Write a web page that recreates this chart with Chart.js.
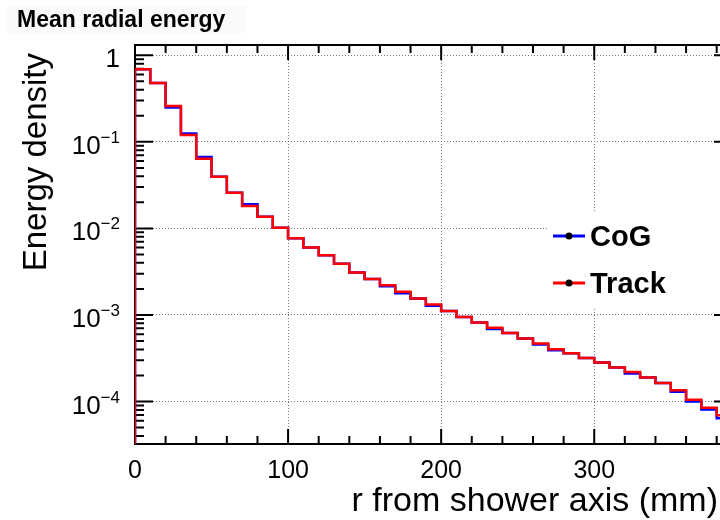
<!DOCTYPE html>
<html>
<head>
<meta charset="utf-8">
<script src="https://cdn.jsdelivr.net/npm/chart.js@4.4.1/dist/chart.umd.min.js"></script>
<style>
  html, body { margin: 0; padding: 0; overflow: hidden; background: #fff; }
</style>
</head>
<body>
<canvas id="myChart" width="760" height="520"></canvas>
<script>
// lower edge of each 10 mm bin
var rBins = [0, 10, 20, 30, 40, 50, 60, 70, 80, 90,
             100, 110, 120, 130, 140, 150, 160, 170, 180, 190,
             200, 210, 220, 230, 240, 250, 260, 270, 280, 290,
             300, 310, 320, 330, 340, 350, 360, 370, 380];
var binWidth = 10;

var trackValues = [0.69, 0.48, 0.26, 0.12, 0.064, 0.0395, 0.0258, 0.0182, 0.0136, 0.0102,
                   0.0077, 0.0060, 0.0049, 0.0039, 0.0031, 0.0026, 0.00221, 0.00185, 0.00155, 0.00132,
                   0.00111, 0.00095, 0.00082, 0.00071, 0.00062, 0.000534, 0.000468, 0.000403, 0.000362, 0.000319,
                   0.000282, 0.000247, 0.00022, 0.000189, 0.000164, 0.000135, 0.000105, 0.000085, 0.0000695];

var cogValues = [0.69, 0.48, 0.25, 0.125, 0.067, 0.0395, 0.0258, 0.019, 0.0136, 0.0102,
                 0.0077, 0.0060, 0.0049, 0.0039, 0.0031, 0.0026, 0.00215, 0.00178, 0.00155, 0.00128,
                 0.00111, 0.00095, 0.00082, 0.00069, 0.00062, 0.000534, 0.000455, 0.00039, 0.000362, 0.000319,
                 0.000282, 0.000247, 0.000211, 0.000189, 0.000164, 0.00013, 0.0001, 0.000081, 0.000064];

var xTicks = [0, 100, 200, 300];
var xTickLabels = ['0', '100', '200', '300'];
var yTicks = [1, 1e-1, 1e-2, 1e-3, 1e-4];
var yTickLabels = [['1', ''], ['10', '\u22121'], ['10', '\u22122'], ['10', '\u22123'], ['10', '\u22124']];

var xMin = 0, xMax = 390;
var yMin = 3.23e-5, yMax = 1.315;
var FONT = '"Liberation Sans", Arial, Helvetica, sans-serif';

// turn bin contents into step points, starting from the bottom of the frame
function histPoints(values) {
  var pts = [{x: rBins[0], y: yMin}];
  for (var i = 0; i < values.length; i++) {
    pts.push({x: rBins[i], y: values[i]});
  }
  pts.push({x: rBins[rBins.length - 1] + binWidth, y: values[values.length - 1]});
  return pts;
}

// ROOT style frame, inward ticks, labels and legend
var rootStyle = {
  id: 'rootStyle',
  beforeDatasetsDraw: function(chart) {
    var ctx = chart.ctx, a = chart.chartArea;
    var xs = chart.scales.x, ys = chart.scales.y;
    ctx.save();
    ctx.strokeStyle = '#000';
    ctx.lineWidth = 2;
    ctx.strokeRect(a.left, a.top, a.right - a.left, a.bottom - a.top);
    ctx.beginPath();
    for (var v = xMin; v <= xMax; v += 20) {
      var px = xs.getPixelForValue(v);
      var len = (v % 100 === 0) ? 15 : 8;
      ctx.moveTo(px, a.bottom); ctx.lineTo(px, a.bottom - len);
      ctx.moveTo(px, a.top); ctx.lineTo(px, a.top + len);
    }
    for (var d = -5; d <= 0; d++) {
      for (var k = 1; k <= 9; k++) {
        var val = k * Math.pow(10, d);
        if (val < yMin || val > yMax) continue;
        var py = ys.getPixelForValue(val);
        var l = (k === 1) ? 18 : 9;
        ctx.moveTo(a.left, py); ctx.lineTo(a.left + l, py);
        ctx.moveTo(a.right, py); ctx.lineTo(a.right - l, py);
      }
    }
    ctx.stroke();
    ctx.restore();
  },
  afterDraw: function(chart) {
    var ctx = chart.ctx, a = chart.chartArea;
    var xs = chart.scales.x, ys = chart.scales.y;
    ctx.save();
    ctx.fillStyle = '#000';

    // x tick labels
    ctx.font = '25px ' + FONT;
    ctx.textAlign = 'center';
    ctx.textBaseline = 'alphabetic';
    xTicks.forEach(function(v, i) {
      ctx.fillText(xTickLabels[i], xs.getPixelForValue(v), 478);
    });

    // y tick labels with exponents
    ctx.textAlign = 'left';
    yTicks.forEach(function(v, i) {
      var py = ys.getPixelForValue(v);
      var base = yTickLabels[i][0], ex = yTickLabels[i][1];
      ctx.font = '17px ' + FONT;
      var ew = ex ? ctx.measureText(ex).width : 0;
      if (ex) ctx.fillText(ex, 120 - ew, py + 1);
      ctx.font = '26px ' + FONT;
      var bw = ctx.measureText(base).width;
      ctx.fillText(base, 120 - ew - bw, py + 12);
    });

    // axis titles
    ctx.font = '34px ' + FONT;
    ctx.textAlign = 'right';
    ctx.fillText('r from shower axis (mm)', 718, 511);
    ctx.save();
    ctx.translate(46, 53);
    ctx.rotate(-Math.PI / 2);
    ctx.font = '33px ' + FONT;
    ctx.fillText('Energy density', 0, 0);
    ctx.restore();

    // title box
    ctx.fillStyle = '#fafafa';
    ctx.fillRect(6, 6, 240, 27);
    ctx.fillStyle = '#000';
    ctx.font = 'bold 23px ' + FONT;
    ctx.textAlign = 'left';
    ctx.fillText('Mean radial energy', 17, 27);

    // legend
    ctx.fillStyle = '#fff';
    ctx.fillRect(548, 212, 220, 95);
    var rows = [chart.data.datasets[1], chart.data.datasets[0]];
    rows.forEach(function(ds, i) {
      var y = 236 + i * 47;
      ctx.strokeStyle = ds.borderColor;
      ctx.lineWidth = 3;
      ctx.beginPath();
      ctx.moveTo(553, y); ctx.lineTo(585, y);
      ctx.stroke();
      ctx.fillStyle = '#000';
      ctx.beginPath();
      ctx.arc(569, y, 3.5, 0, Math.PI * 2);
      ctx.fill();
      ctx.font = 'bold 29px ' + FONT;
      ctx.fillText(ds.label, 590, y + 10);
    });
    ctx.restore();
  }
};

var ctx = document.getElementById('myChart').getContext('2d');
var myChart = new Chart(ctx, {
  type: 'line',
  data: {
    datasets: [{
      label: 'Track',
      data: histPoints(trackValues),
      stepped: 'before',
      borderColor: '#ff0000',
      borderWidth: 2.5,
      pointRadius: 0,
      fill: false
    }, {
      label: 'CoG',
      data: histPoints(cogValues),
      stepped: 'before',
      borderColor: '#0000ff',
      borderWidth: 2.5,
      pointRadius: 0,
      fill: false
    }]
  },
  options: {
    responsive: false,
    animation: false,
    events: [],
    devicePixelRatio: 1,
    layout: {
      padding: {left: 135, top: 45, right: 28, bottom: 76}
    },
    scales: {
      x: {
        type: 'linear',
        min: xMin,
        max: xMax,
        afterBuildTicks: function(scale) {
          scale.ticks = [{value: 100}, {value: 200}, {value: 300}];
        },
        ticks: {display: false},
        grid: {drawTicks: false, color: '#777', lineWidth: 1},
        border: {display: false, dash: [1, 2]}
      },
      y: {
        type: 'logarithmic',
        min: yMin,
        max: yMax,
        afterBuildTicks: function(scale) {
          scale.ticks = yTicks.map(function(v) { return {value: v}; });
        },
        ticks: {display: false},
        grid: {drawTicks: false, color: '#777', lineWidth: 1},
        border: {display: false, dash: [1, 2]}
      }
    },
    plugins: {
      legend: {display: false},
      tooltip: {enabled: false}
    }
  },
  plugins: [rootStyle]
});
</script>
</body>
</html>
